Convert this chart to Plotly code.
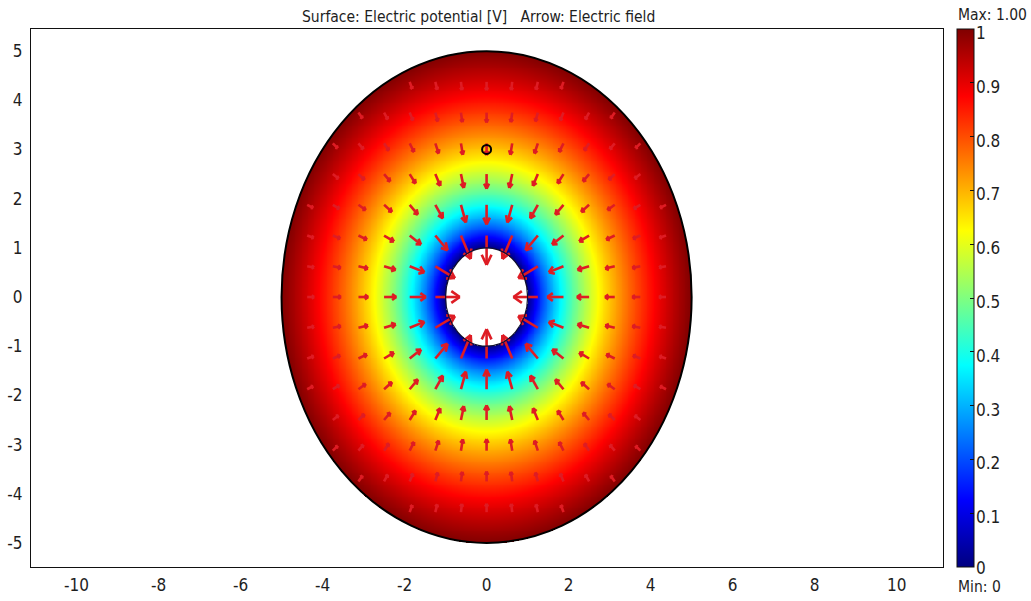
import numpy as np
import plotly.graph_objects as go

# Annular electrode: inner and outer circular boundaries with fixed potentials
R_INNER = 1.0
R_OUTER = 5.0
V_INNER = 0.0
V_OUTER = 1.0

# Geometry point shown on the domain
PROBE_X = [0.0]
PROBE_Y = [3.0]

# Arrow sampling positions (same along x and y) and arrow length factor
ARROW_GRID = [-5.0, -4.375, -3.75, -3.125, -2.5, -1.875, -1.25, -0.625, 0.0,
              0.625, 1.25, 1.875, 2.5, 3.125, 3.75, 4.375, 5.0]
ARROW_SCALE = 1.2

X_TICKS = [-10, -8, -6, -4, -2, 0, 2, 4, 6, 8, 10]
X_LABELS = ["-10", "-8", "-6", "-4", "-2", "0", "2", "4", "6", "8", "10"]
Y_TICKS = [-5, -4, -3, -2, -1, 0, 1, 2, 3, 4, 5]
Y_LABELS = ["-5", "-4", "-3", "-2", "-1", "0", "1", "2", "3", "4", "5"]
CBAR_TICKS = [0, 0.1, 0.2, 0.3, 0.4, 0.5, 0.6, 0.7, 0.8, 0.9, 1.0]
CBAR_LABELS = ["0", "0.1", "0.2", "0.3", "0.4", "0.5", "0.6", "0.7", "0.8", "0.9", "1"]

JET = [
    [0.0, "rgb(0,0,128)"],
    [0.125, "rgb(0,0,255)"],
    [0.375, "rgb(0,255,255)"],
    [0.625, "rgb(255,255,0)"],
    [0.875, "rgb(255,0,0)"],
    [1.0, "rgb(128,0,0)"],
]

FONT = "Liberation Sans Narrow, DejaVu Sans Condensed, Liberation Sans, Arial, sans-serif"
TEXT_COLOR = "#1e1e1e"
ARROW_COLOR = "rgb(222,28,36)"

# Colorbar placement (paper coordinates)
CBAR_X = 1.0154
LABEL_SHIFT = -4  # labels sit slightly below their tick positions


def potential(r):
    """Laplace solution between two concentric circles."""
    return V_INNER + (V_OUTER - V_INNER) * np.log(r / R_INNER) / np.log(R_OUTER / R_INNER)


def field(x, y):
    """Electric field E = -grad V (radial)."""
    r = np.hypot(x, y)
    mag = (V_OUTER - V_INNER) / (r * np.log(R_OUTER / R_INNER))
    return -mag * x / r, -mag * y / r


# Surface: potential sampled on a fine grid, blank outside the domain
gx = np.linspace(-R_OUTER - 0.05, R_OUTER + 0.05, 481)
gy = np.linspace(-R_OUTER - 0.05, R_OUTER + 0.05, 541)
XX, YY = np.meshgrid(gx, gy)
RR = np.hypot(XX, YY)
ZZ = potential(np.where(RR > 0, RR, 1.0))
ZZ = np.where((RR >= R_INNER) & (RR <= R_OUTER), ZZ, np.nan).astype(np.float32)

# Arrows: tail at the sample point, length proportional to |E|, open heads
ax_x, ax_y = [], []
head_frac = 0.4
head_ang = np.deg2rad(30)
for px in ARROW_GRID:
    for py in ARROW_GRID:
        r = np.hypot(px, py)
        if not (R_INNER < r < R_OUTER - 1e-9):
            continue
        ex, ey = field(px, py)
        mag = np.hypot(ex, ey)
        L = ARROW_SCALE * mag
        ux, uy = ex / mag, ey / mag
        tx, ty = px + L * ux, py + L * uy
        h = head_frac * L
        ax_x += [px, tx, None]
        ax_y += [py, ty, None]
        for s in (1, -1):
            ca, sa = np.cos(s * head_ang), np.sin(s * head_ang)
            bx = ux * ca - uy * sa
            by = ux * sa + uy * ca
            ax_x += [tx - h * bx, tx, None]
            ax_y += [ty - h * by, ty, None]

fig = go.Figure()

fig.add_trace(go.Heatmap(
    x=gx, y=gy, z=ZZ,
    zmin=0, zmax=1,
    colorscale=JET,
    hoverinfo="skip",
    colorbar=dict(
        x=CBAR_X, xanchor="left",
        y=0.5, yanchor="middle",
        len=1.0, lenmode="fraction",
        thickness=17, thicknessmode="pixels",
        outlinecolor="#111", outlinewidth=1,
        tickvals=CBAR_TICKS,
        ticks="inside", ticklen=4, tickcolor="#111",
        showticklabels=False,
        xpad=0, ypad=0,
    ),
))

fig.add_trace(go.Scatter(
    x=ax_x, y=ax_y, mode="lines",
    line=dict(color=ARROW_COLOR, width=2.6),
    hoverinfo="skip", showlegend=False,
))

fig.add_trace(go.Scatter(
    x=PROBE_X, y=PROBE_Y, mode="markers",
    marker=dict(symbol="circle-open", size=9, color="#000", line=dict(width=2, color="#000")),
    hoverinfo="skip", showlegend=False,
))

# Domain boundaries
fig.add_shape(type="circle", xref="x", yref="y",
              x0=-R_OUTER, y0=-R_OUTER, x1=R_OUTER, y1=R_OUTER,
              line=dict(color="#000", width=2))
fig.add_shape(type="circle", xref="x", yref="y",
              x0=-R_INNER, y0=-R_INNER, x1=R_INNER, y1=R_INNER,
              line=dict(color="#101030", width=1.2))

axis_common = dict(
    showgrid=False, zeroline=False, automargin=False,
    showline=True, mirror=True, linecolor="#111", linewidth=1,
    ticks="", tickfont=dict(family=FONT, size=17, color=TEXT_COLOR),
)

annotations = [
    dict(text="Surface: Electric potential [V]\u00a0\u00a0\u00a0Arrow: Electric field",
         xref="paper", yref="paper", x=0.491, y=1.0, xanchor="center", yanchor="bottom",
         yshift=1, showarrow=False,
         font=dict(family=FONT, size=15.5, color=TEXT_COLOR)),
    dict(text="Max: 1.00", xref="paper", yref="paper", x=CBAR_X, y=1.0,
         xanchor="left", yanchor="middle", yshift=14, xshift=-1, showarrow=False,
         font=dict(family=FONT, size=15.5, color=TEXT_COLOR)),
    dict(text="Min: 0", xref="paper", yref="paper", x=CBAR_X, y=0.0,
         xanchor="left", yanchor="middle", yshift=-20, xshift=-1, showarrow=False,
         font=dict(family=FONT, size=15.5, color=TEXT_COLOR)),
]
# Colorbar tick labels, placed at their values along the bar (bar spans paper 0..1)
for v, lab in zip(CBAR_TICKS, CBAR_LABELS):
    annotations.append(dict(
        text=lab, xref="paper", yref="paper", x=CBAR_X, y=v,
        xanchor="left", yanchor="middle", xshift=17,
        yshift=LABEL_SHIFT if v > 0 else -1,
        showarrow=False, font=dict(family=FONT, size=17, color=TEXT_COLOR),
    ))

fig.update_layout(
    width=1031, height=601,
    margin=dict(l=31, r=88, t=29, b=34, autoexpand=False),
    paper_bgcolor="white", plot_bgcolor="white",
    showlegend=False,
    xaxis=dict(range=[-11.11, 11.13], tickvals=X_TICKS, ticktext=X_LABELS,
               ticklabelstandoff=3, **axis_common),
    yaxis=dict(range=[-5.49, 5.45], tickvals=Y_TICKS, ticktext=Y_LABELS,
               ticklabelstandoff=4, **axis_common),
    annotations=annotations,
)

fig.write_html("out.html")
